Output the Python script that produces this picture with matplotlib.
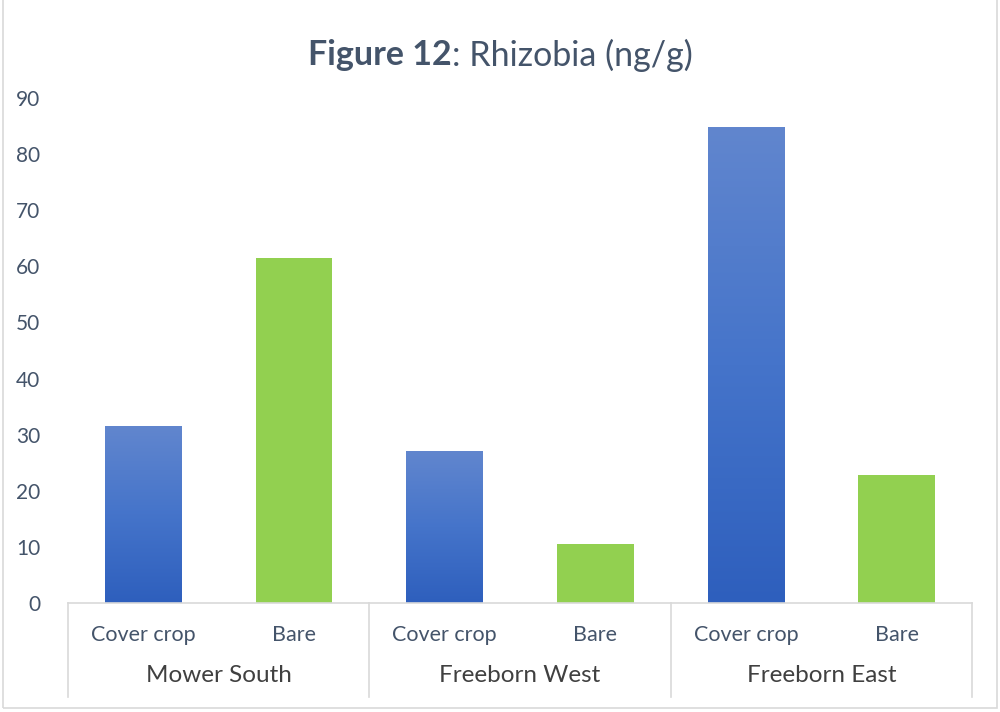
import matplotlib
matplotlib.use("Agg")
import matplotlib.pyplot as plt
import matplotlib.transforms as mtrans
from matplotlib.colors import LinearSegmentedColormap
from matplotlib.patches import Rectangle
import numpy as np

# data
sites = ["Mower South", "Freeborn West", "Freeborn East"]
treatments = ["Cover crop", "Bare"]
cover_crop = [31.5, 27.0, 84.8]
bare = [61.5, 10.5, 22.8]
y_ticks = [0, 10, 20, 30, 40, 50, 60, 70, 80, 90]

TICK_COL = "#44546A"
LABEL_COL = "#404040"
LINE_COL = "#D9D9D9"
GREEN = "#92D050"
blue_grad = LinearSegmentedColormap.from_list("bl", ["#2E5FBD", "#4574CA", "#6186CE"])

plt.rcParams["font.family"] = ["Lato", "DejaVu Sans"]

fig = plt.figure(figsize=(10, 7.12), dpi=100)
ax = fig.add_axes([0.068, 0.1531, 0.904, 0.7093])

# interleave: cover, bare per site
values = []
kinds = []
for c, b in zip(cover_crop, bare):
    values += [c, b]
    kinds += ["cover", "bare"]
x = np.arange(len(values))
width = 0.51

bars = ax.bar(x, values, width=width, color=[GREEN if k == "bare" else "none" for k in kinds],
              edgecolor="none", zorder=2)

# vertical gradient fill for the cover-crop bars
grad = np.linspace(0, 1, 256).reshape(-1, 1)
for bar, kind in zip(bars, kinds):
    if kind != "cover":
        continue
    x0, w, h = bar.get_x(), bar.get_width(), bar.get_height()
    im = ax.imshow(grad, cmap=blue_grad, origin="lower", aspect="auto",
                   extent=[x0, x0 + w, 0, h], zorder=2)
    im.set_clip_path(bar)

ax.set_xlim(-0.5, len(values) - 0.5)
ax.set_ylim(0, 90)
ax.set_yticks(y_ticks)
ax.set_yticklabels([str(t) for t in y_ticks], fontsize=15, color=TICK_COL)
ax.tick_params(axis="y", length=0, pad=20)
ax.set_xticks([])
for s in ["left", "right", "top"]:
    ax.spines[s].set_visible(False)
ax.spines["bottom"].set_color(LINE_COL)
ax.spines["bottom"].set_linewidth(1.2)

# two-level category axis
tr = mtrans.blended_transform_factory(ax.transData, fig.transFigure)
for i, xi in enumerate(x):
    ax.text(xi, 1 - 635 / 712, treatments[i % 2], transform=tr, ha="center", va="center",
            fontsize=15.5, color=TICK_COL)
for j, site in enumerate(sites):
    ax.text(2 * j + 0.5, 1 - 676 / 712, site, transform=tr, ha="center", va="center",
            fontsize=17.5, color=LABEL_COL)
for d in [-0.5, 1.5, 3.5, 5.5]:
    ax.plot([d, d], [1 - 603 / 712, 1 - 697 / 712], transform=tr, color=LINE_COL,
            lw=1.2, clip_on=False)

# title with bold prefix, centred as a whole
ty = 1 - 55 / 712
t1 = fig.text(0, ty, "Figure 12", fontsize=24.5, fontweight="bold",
              color=TICK_COL, ha="left", va="center")
t2 = fig.text(0, ty, ": Rhizobia (ng/g)", fontsize=24.5,
              color=TICK_COL, ha="left", va="center")
fig.canvas.draw()
w1 = t1.get_window_extent().width / fig.bbox.width
w2 = t2.get_window_extent().width / fig.bbox.width
start = 0.5 - (w1 + w2) / 2
t1.set_x(start)
t2.set_x(start + w1)

# chart frame
fig.add_artist(Rectangle((0.003, 0.006), 0.994, 1.0, transform=fig.transFigure,
                         fill=False, edgecolor=LINE_COL, lw=1.2))

fig.savefig("out.png", dpi=100)
